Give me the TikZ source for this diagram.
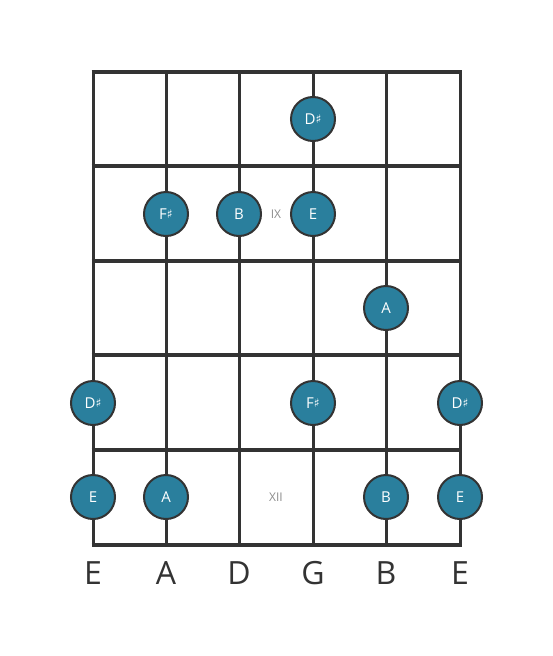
\documentclass[tikz,border=0pt]{standalone}
\usepackage{fontspec}
\setmainfont{Open Sans}
\newfontfamily\symfont{DejaVu Sans}
\definecolor{teal1}{RGB}{42,127,157}
\definecolor{ink}{RGB}{51,51,51}
\definecolor{graytxt}{RGB}{140,140,140}
\newcommand{\shp}{{\symfont\fontsize{12}{12}\selectfont\raisebox{0.5pt}{♯}}}
\begin{document}
\begin{tikzpicture}[x=1pt,y=-1pt,
  fretline/.style={draw=ink,line width=4.6pt},
  stringline/.style={draw=ink,line width=3pt},
  note/.style={circle,fill=teal1,draw=ink,line width=2pt,minimum size=44pt,inner sep=0pt,text=white,font=\fontsize{15}{15}\selectfont},
  fretpos/.style={text=graytxt,font=\fontsize{12}{12}\selectfont},
  strlabel/.style={text=ink,font=\fontsize{32}{32}\selectfont}]
\useasboundingbox (0,0) rectangle (553,656);
% coordinates
\foreach \i/\x in {1/93,2/166,3/239,4/313,5/386,6/460}{
  \coordinate (s\i top) at (\x,72);
  \coordinate (s\i bot) at (\x,545);
}
\foreach \j/\y in {0/72,1/166,2/261,3/355,4/450,5/545}{
  \coordinate (f\j l) at (93,\y);
  \coordinate (f\j r) at (460,\y);
}
\foreach \i in {1,...,6}{\draw[stringline] (s\i top) -- (s\i bot);}
\foreach \j in {0,...,5}{\draw[fretline] ([xshift=-1.5pt]f\j l) -- ([xshift=1.5pt]f\j r);}
% notes
\node[note] (n1) at (313,119) {D\shp};
\node[note] (n2) at (166,214) {F\shp};
\node[note] (n3) at (239,214) {B};
\node[note] (n4) at (313,214) {E};
\node[fretpos] (p9) at (276,214) {IX};
\node[note] (n5) at (386,308) {A};
\node[note] (n6) at (93,403) {D\shp};
\node[note] (n7) at (313,403) {F\shp};
\node[note] (n8) at (460,403) {D\shp};
\node[note] (n9) at (93,497) {E};
\node[note] (n10) at (166,497) {A};
\node[fretpos] (p12) at (276,497) {XII};
\node[note] (n11) at (386,497) {B};
\node[note] (n12) at (460,497) {E};
% string labels
\foreach \i/\x/\t in {1/93/E,2/166/A,3/239/D,4/313/G,5/386/B,6/460/E}{
  \node[strlabel] (l\i) at (\x,573) {\t};
}
\end{tikzpicture}
\end{document}
